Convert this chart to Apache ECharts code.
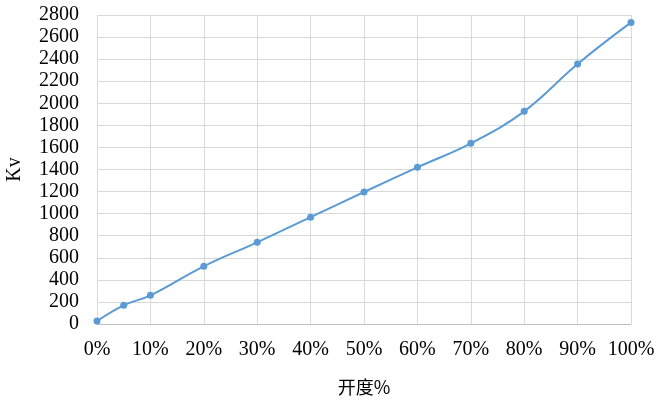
<!DOCTYPE html>
<html>
<head>
<meta charset="utf-8">
<script src="https://cdn.jsdelivr.net/npm/echarts@6/dist/echarts.min.js"></script>
<style>html,body{margin:0;padding:0;background:#fff}#c{width:669px;height:400px}</style>
</head>
<body>
<div id="c"></div>
<script>
var openings = [0, 5, 10, 20, 30, 40, 50, 60, 70, 80, 90, 100];
var kvValues = [27, 169, 260, 523, 740, 968, 1196, 1420, 1637, 1927, 2356, 2733];
var xAxisName = '开度%';
var yAxisName = 'Kv';

var chart = echarts.init(document.getElementById('c'), null, {renderer: 'canvas'});
var serif = '"Liberation Serif", "Times New Roman", serif';
chart.setOption({
  animation: false,
  grid: {left: 97, right: 38, top: 15, bottom: 76, outerBoundsMode: 'none', containLabel: false},
  xAxis: {
    type: 'value', min: 0, max: 100, interval: 10,
    name: xAxisName, nameLocation: 'middle', nameGap: 54,
    nameTextStyle: {fontFamily: '"Noto Sans CJK SC", ' + serif, fontSize: 18, color: '#000'},
    axisLine: {show: true, lineStyle: {color: '#bfbfbf', width: 1}},
    axisTick: {show: false},
    axisLabel: {formatter: '{value}%', fontFamily: serif, fontSize: 20, color: '#000', margin: 16},
    splitLine: {show: true, lineStyle: {color: '#d9d9d9', width: 1}}
  },
  yAxis: {
    type: 'value', min: 0, max: 2800, interval: 200,
    name: yAxisName, nameLocation: 'middle', nameGap: 72, nameRotate: 90,
    nameTextStyle: {fontFamily: serif, fontSize: 20, color: '#000'},
    axisLine: {show: false},
    axisTick: {show: false},
    axisLabel: {formatter: function (v) { return String(v); }, fontFamily: serif, fontSize: 20, color: '#000', margin: 18},
    splitLine: {show: true, lineStyle: {color: '#d9d9d9', width: 1}}
  },
  series: [{
    type: 'line',
    data: openings.map(function (x, i) { return [x, kvValues[i]]; }),
    smooth: 0.4,
    symbol: 'circle', symbolSize: 7,
    lineStyle: {color: '#5b9bd5', width: 2},
    itemStyle: {color: '#5b9bd5'}
  }]
});
</script>
</body>
</html>
